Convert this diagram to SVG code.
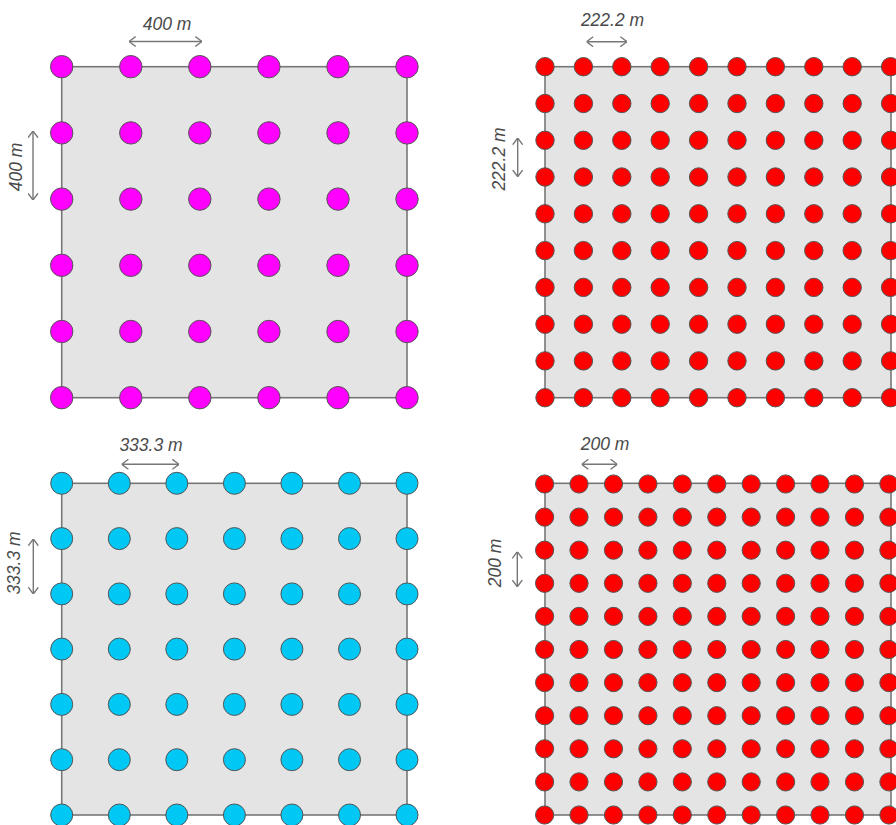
<svg xmlns="http://www.w3.org/2000/svg" width="896" height="825" viewBox="0 0 896 825">
<style>
.field{fill:#e4e4e4;stroke:#777;stroke-width:1.6}
.dim{stroke:#777;stroke-width:1.4;fill:none}
.lbl{font-family:"Liberation Sans",Arial,sans-serif;font-style:italic;font-size:17.5px;fill:#4a4a4a;text-anchor:middle}
.m{fill:#ff00ff;stroke:#555;stroke-width:1}
.r{fill:#ff0000;stroke:#555;stroke-width:1}
.c{fill:#00c8f5;stroke:#555;stroke-width:1}
</style>
<defs>
<marker id="chev" viewBox="0 0 7 11" refX="7" refY="5.5" markerWidth="7" markerHeight="11" markerUnits="userSpaceOnUse" orient="auto-start-reverse">
<path d="M0.3,0.5 L7,5.5 L0.3,10.5" fill="none" stroke="#777" stroke-width="1.4"/>
</marker>
<g id="rowTL" class="m">
<circle cx="61.7" cy="0" r="11.2"/><circle cx="130.8" cy="0" r="11.2"/><circle cx="199.8" cy="0" r="11.2"/><circle cx="268.9" cy="0" r="11.2"/><circle cx="338" cy="0" r="11.2"/><circle cx="407" cy="0" r="11.2"/>
</g>
<g id="rowTR" class="r">
<circle cx="545" cy="0" r="9.2"/><circle cx="583.4" cy="0" r="9.2"/><circle cx="621.8" cy="0" r="9.2"/><circle cx="660.2" cy="0" r="9.2"/><circle cx="698.6" cy="0" r="9.2"/><circle cx="737" cy="0" r="9.2"/><circle cx="775.4" cy="0" r="9.2"/><circle cx="813.8" cy="0" r="9.2"/><circle cx="852.2" cy="0" r="9.2"/><circle cx="890.6" cy="0" r="9.2"/>
</g>
<g id="rowBL" class="c">
<circle cx="61.7" cy="0" r="11"/><circle cx="119.3" cy="0" r="11"/><circle cx="176.8" cy="0" r="11"/><circle cx="234.4" cy="0" r="11"/><circle cx="291.9" cy="0" r="11"/><circle cx="349.5" cy="0" r="11"/><circle cx="407" cy="0" r="11"/>
</g>
<g id="rowBR" class="r">
<circle cx="544.6" cy="0" r="9.1"/><circle cx="579" cy="0" r="9.1"/><circle cx="613.5" cy="0" r="9.1"/><circle cx="647.9" cy="0" r="9.1"/><circle cx="682.3" cy="0" r="9.1"/><circle cx="716.8" cy="0" r="9.1"/><circle cx="751.2" cy="0" r="9.1"/><circle cx="785.6" cy="0" r="9.1"/><circle cx="820" cy="0" r="9.1"/><circle cx="854.5" cy="0" r="9.1"/><circle cx="888.9" cy="0" r="9.1"/>
</g>
</defs>

<g id="panel-400">
<rect class="field" x="61.7" y="66.7" width="345.3" height="331"/>
<use href="#rowTL" y="66.7"/><use href="#rowTL" y="132.9"/><use href="#rowTL" y="199.1"/><use href="#rowTL" y="265.3"/><use href="#rowTL" y="331.5"/><use href="#rowTL" y="397.7"/>
</g>

<g id="panel-222">
<rect class="field" x="545" y="66.7" width="346" height="331"/>
<use href="#rowTR" y="66.7"/><use href="#rowTR" y="103.5"/><use href="#rowTR" y="140.3"/><use href="#rowTR" y="177"/><use href="#rowTR" y="213.8"/><use href="#rowTR" y="250.6"/><use href="#rowTR" y="287.4"/><use href="#rowTR" y="324.2"/><use href="#rowTR" y="360.9"/><use href="#rowTR" y="397.7"/>
</g>

<g id="panel-333">
<rect class="field" x="61.7" y="483.3" width="345.3" height="331.7"/>
<use href="#rowBL" y="483.3"/><use href="#rowBL" y="538.6"/><use href="#rowBL" y="593.9"/><use href="#rowBL" y="649.1"/><use href="#rowBL" y="704.4"/><use href="#rowBL" y="759.7"/><use href="#rowBL" y="815"/>
</g>

<g id="panel-200">
<rect class="field" x="545" y="483.3" width="346" height="331.7"/>
<use href="#rowBR" y="484"/><use href="#rowBR" y="517.1"/><use href="#rowBR" y="550.2"/><use href="#rowBR" y="583.3"/><use href="#rowBR" y="616.4"/><use href="#rowBR" y="649.5"/><use href="#rowBR" y="682.6"/><use href="#rowBR" y="715.7"/><use href="#rowBR" y="748.8"/><use href="#rowBR" y="781.9"/><use href="#rowBR" y="815"/>
</g>

<g id="dimensions">
<line class="dim" x1="129" y1="41.5" x2="202" y2="41.5" marker-start="url(#chev)" marker-end="url(#chev)"/>
<line class="dim" x1="33" y1="131" x2="33" y2="200" marker-start="url(#chev)" marker-end="url(#chev)"/>
<line class="dim" x1="586.5" y1="41.7" x2="627" y2="41.7" marker-start="url(#chev)" marker-end="url(#chev)"/>
<line class="dim" x1="517.7" y1="138" x2="517.7" y2="176.7" marker-start="url(#chev)" marker-end="url(#chev)"/>
<line class="dim" x1="121.7" y1="464.3" x2="179" y2="464.3" marker-start="url(#chev)" marker-end="url(#chev)"/>
<line class="dim" x1="33.3" y1="539" x2="33.3" y2="594" marker-start="url(#chev)" marker-end="url(#chev)"/>
<line class="dim" x1="581.7" y1="464.3" x2="617.3" y2="464.3" marker-start="url(#chev)" marker-end="url(#chev)"/>
<line class="dim" x1="517.3" y1="551.7" x2="517.3" y2="586.7" marker-start="url(#chev)" marker-end="url(#chev)"/>
</g>

<g id="labels">
<text class="lbl" x="167" y="30">400 m</text>
<text class="lbl" transform="translate(21.5,167) rotate(-90)">400 m</text>
<text class="lbl" x="612.5" y="26">222.2 m</text>
<text class="lbl" transform="translate(505,159) rotate(-90)">222.2 m</text>
<text class="lbl" x="151" y="451">333.3 m</text>
<text class="lbl" transform="translate(20,563) rotate(-90)">333.3 m</text>
<text class="lbl" x="605" y="450">200 m</text>
<text class="lbl" transform="translate(500.7,563) rotate(-90)">200 m</text>
</g>
</svg>
